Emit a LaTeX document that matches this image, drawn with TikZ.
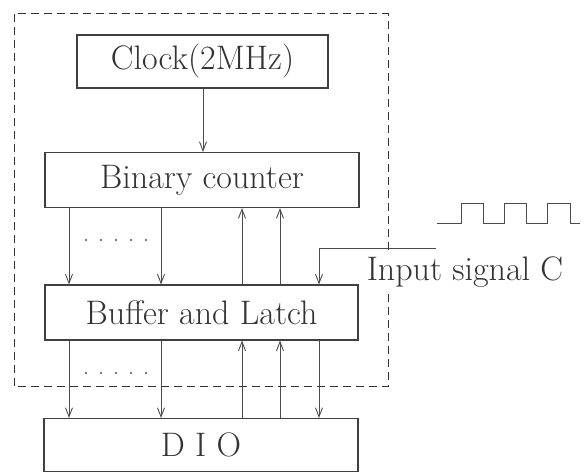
\documentclass[tikz,border=0pt]{standalone}
\usepackage{fontspec}
\usetikzlibrary{arrows.meta}
\begin{document}
\begin{tikzpicture}[x=1pt,y=-1pt,
  blk/.style={draw=black!75,line width=1.1pt,rectangle,inner sep=0pt,font=\fontsize{34}{40}\selectfont,text=black!80},
  arr/.style={draw=black!70,line width=0.9pt,-{Straight Barb[length=9pt,width=7pt]}},
  ln/.style={draw=black!70,line width=0.9pt},
  dot/.style={fill=black!70}]
\useasboundingbox (0,0) rectangle (587,473);
% dashed enclosure
\draw[black!80,line width=1pt,dash pattern=on 8pt off 5pt] (14,14) rectangle (388,387);
% blocks
\node[blk,minimum width=251pt,minimum height=53pt] (clock) at (202.5,61.5) {Clock(2MHz)};
\node[blk,minimum width=314pt,minimum height=55pt] (counter) at (202,180) {Binary counter};
\node[blk,minimum width=313pt,minimum height=55pt] (buffer) at (201.5,312.5) {Buffer and Latch};
\node[blk,minimum width=314pt,minimum height=53pt] (dio) at (201,445) {D\hspace{0.3em}I\hspace{0.3em}O};
% column coordinates
\coordinate (c0) at (203,0);
\coordinate (c1) at (69,0);
\coordinate (c2) at (161,0);
\coordinate (c3) at (242,0);
\coordinate (c4) at (280,0);
\coordinate (c5) at (319,0);
% clock to counter
\draw[arr] (clock.south -| c0) -- (counter.north -| c0);
% counter <-> buffer
\draw[arr] (counter.south -| c1) -- (buffer.north -| c1);
\draw[arr] (counter.south -| c2) -- (buffer.north -| c2);
\draw[arr] (buffer.north -| c3) -- (counter.south -| c3);
\draw[arr] (buffer.north -| c4) -- (counter.south -| c4);
% buffer <-> dio
\draw[arr] (buffer.south -| c1) -- (dio.north -| c1);
\draw[arr] (buffer.south -| c2) -- (dio.north -| c2);
\draw[arr] (dio.north -| c3) -- (buffer.south -| c3);
\draw[arr] (dio.north -| c4) -- (buffer.south -| c4);
\draw[arr] (buffer.south -| c5) -- (dio.north -| c5);
% dots
\foreach \x in {86,101,116,131,146} {
  \fill[dot] (\x,240) circle (1.2pt);
  \fill[dot] (\x,373) circle (1.2pt);
}
% input signal
\coordinate (sig) at (436,248);
\coordinate (sigc) at (319,248);
\draw[arr] (sig) -- (sigc) -- (buffer.north -| sigc);
\node[font=\fontsize{34}{40}\selectfont,text=black!80,fill=white,inner xsep=0pt,inner ysep=2pt,anchor=base] (label) at (465,281) {Input signal C};
% square wave
\draw[ln] (437,223) -- (461,223) -- (461,203) -- (483,203) -- (483,223) -- (504,223) -- (504,203) -- (526,203) -- (526,223) -- (547,223) -- (547,203) -- (570,203) -- (570,223) -- (580,223);
\end{tikzpicture}
\end{document}
